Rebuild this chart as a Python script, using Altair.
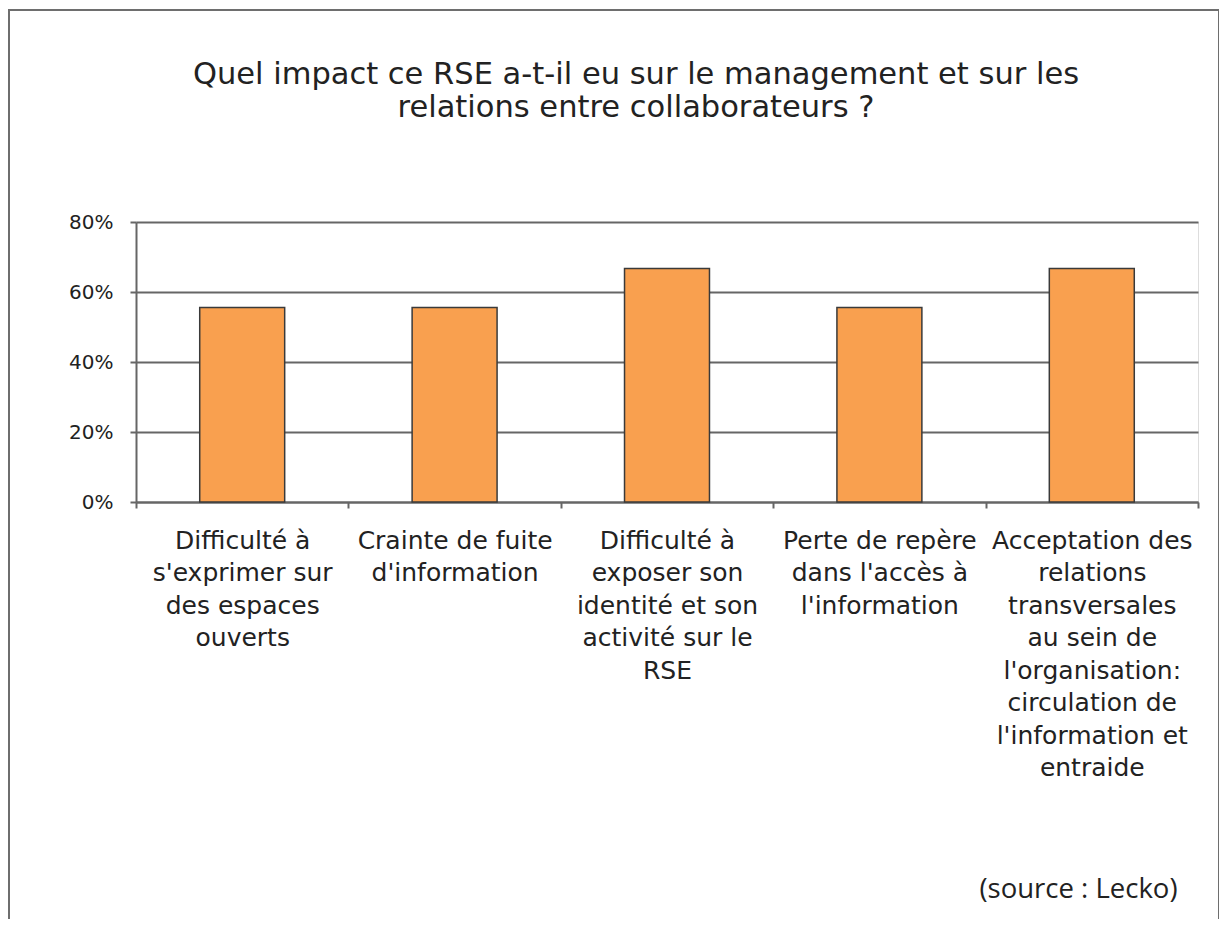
import altair as alt
import pandas as pd

categories = [
    "Difficulté à|s'exprimer sur|des espaces|ouverts",
    "Crainte de fuite|d'information",
    "Difficulté à|exposer son|identité et son|activité sur le|RSE",
    "Perte de repère|dans l'accès à|l'information",
    "Acceptation des|relations|transversales|au sein de|l'organisation:|circulation de|l'information et|entraide",
]
values = [0.556, 0.556, 0.667, 0.556, 0.667]
y_ticks = [0, 0.2, 0.4, 0.6, 0.8]
title_lines = [
    "Quel impact ce RSE a-t-il eu sur le management et sur les",
    "relations entre collaborateurs ?",
]
source_note = "(source : Lecko)"

df = pd.DataFrame({"cat": categories, "val": values})

AXIS_GRAY = "#666666"
TEXT = "#222222"

bars = alt.Chart(df).mark_bar(
    width=alt.RelativeBandSize(0.4),
    color="#F9A04F",
    stroke="#3a3a3a",
    strokeWidth=1.5,
).encode(
    x=alt.X(
        "cat:N",
        sort=categories,
        scale=alt.Scale(paddingInner=0, paddingOuter=0),
        axis=alt.Axis(
            labelExpr="split(datum.label, '|')",
            labelAngle=0,
            labelFont="DejaVu Sans",
            labelFontSize=25,
            labelLineHeight=32.5,
            labelLimit=0,
            labelOverlap=False,
            labelPadding=20,
            labelColor=TEXT,
            tickBand="extent",
            tickSize=6,
            tickWidth=2,
            tickColor=AXIS_GRAY,
            domainColor=AXIS_GRAY,
            domainWidth=2,
            grid=False,
            title=source_note,
            titleFont="Open Sans",
            titleFontSize=27.5,
            titleFontWeight="normal",
            titleColor=TEXT,
            titleAlign="right",
            titleBaseline="alphabetic",
            titleAnchor="end",
            titleX=1041,
            titleY=395,
        ),
    ),
    y=alt.Y(
        "val:Q",
        scale=alt.Scale(domain=[0, 0.8], nice=False),
        axis=alt.Axis(
            values=y_ticks,
            format=".0%",
            labelFont="DejaVu Sans",
            labelFontSize=20,
            labelPadding=17,
            labelColor=TEXT,
            tickSize=6,
            tickWidth=2,
            tickColor=AXIS_GRAY,
            domainColor=AXIS_GRAY,
            domainWidth=2,
            gridColor=AXIS_GRAY,
            gridWidth=2,
            title=None,
        ),
    ),
)

frame = alt.Chart(pd.DataFrame({"f": [0]})).mark_rect(
    fillOpacity=0, stroke="#6e6e6e", strokeWidth=2
).encode(
    x=alt.value(-127), x2=alt.value(1083), y=alt.value(-212), y2=alt.value(702)
)

chart = alt.layer(frame, bars).properties(
    width=1062,
    height=280,
    autosize=alt.AutoSizeParams(type="none"),
    padding={"left": 128, "top": 214, "right": 21, "bottom": 417},
    title=alt.TitleParams(
        text=title_lines,
        font="DejaVu Sans",
        fontSize=30.5,
        fontWeight="normal",
        color=TEXT,
        anchor="middle",
        frame="group",
        baseline="alphabetic",
        offset=-138,
        dx=-31,
        lineHeight=33,
    ),
).configure_view(stroke=None).configure(background="white")

chart.save("out.html", embed_options={"renderer": "svg", "actions": False})
